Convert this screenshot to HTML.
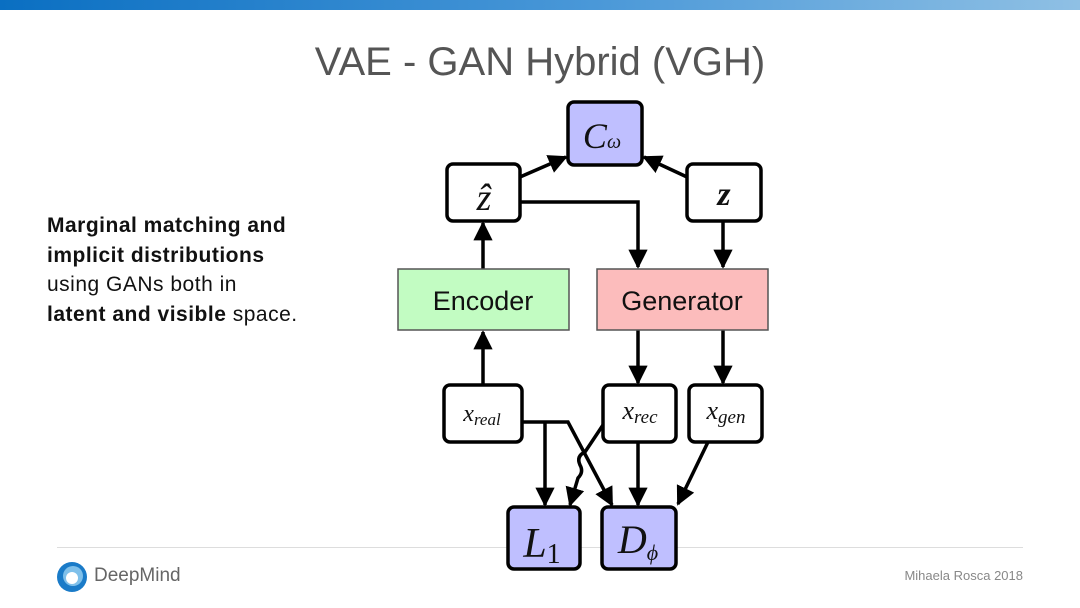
<!DOCTYPE html>
<html><head><meta charset="utf-8"><style>
body{margin:0;width:1080px;height:608px;background:#fff;position:relative;overflow:hidden;font-family:"Liberation Sans",sans-serif}
.bar{position:absolute;left:0;top:0;width:1080px;height:10px;background:linear-gradient(90deg,#0a6fc2,#4a98d8 55%,#8fc0e4)}
.title{position:absolute;left:0;width:1080px;top:40px;text-align:center;font-size:40px;color:#555}
.left{position:absolute;left:47px;top:211px;font-size:21px;line-height:29.5px;color:#111;letter-spacing:0.5px}
.foot{position:absolute;left:57px;top:547px;width:966px;height:1px;background:#ddd}
.dm{position:absolute;left:94px;top:565px;font-size:19px;color:#666}
.auth{position:absolute;right:57px;top:568px;font-size:13px;color:#888}
</style></head><body>
<div class="bar"></div>
<div class="title">VAE - GAN Hybrid (VGH)</div>
<div class="left"><b>Marginal matching and<br>implicit distributions</b><br>using GANs both in<br><b>latent and visible</b> space.</div>
<div class="foot"></div>
<svg style="position:absolute;left:56px;top:561px" width="32" height="32" viewBox="0 0 32 32"><circle cx="16" cy="16" r="15" fill="#1a7bc8"/><circle cx="17" cy="15" r="10" fill="#7fc0ea"/><circle cx="16" cy="17" r="6" fill="#fff"/></svg>
<div class="dm">DeepMind</div>
<div class="auth">Mihaela Rosca 2018</div>
<svg style="position:absolute;left:0;top:0" width="1080" height="608">
<defs><marker id="a" viewBox="0 0 10 10" refX="9" refY="5" markerWidth="5.5" markerHeight="5.5" orient="auto"><path d="M0,0L10,5L0,10z" fill="#000"/></marker></defs>
<g stroke="#000" stroke-width="3.5" fill="none" marker-end="url(#a)">
<line x1="520" y1="177" x2="566" y2="157"/>
<line x1="687" y1="177" x2="644" y2="157"/>
<polyline points="520,202 638,202 638,267"/>
<line x1="723" y1="221" x2="723" y2="267"/>
<line x1="483" y1="269" x2="483" y2="223"/>
<line x1="483" y1="385" x2="483" y2="332"/>
<line x1="638" y1="330" x2="638" y2="383"/>
<line x1="723" y1="330" x2="723" y2="383"/>
<line x1="545" y1="422" x2="545" y2="505"/>
<polyline points="522,422 568,422 612,505"/>
<path d="M603,425 L585,452 Q576,456 580,465 Q584,472 578,478 L570,505"/>
<line x1="638" y1="442" x2="638" y2="505"/>
<line x1="708" y1="442" x2="678" y2="504"/>
</g>
<g stroke="#000" stroke-width="3.5">
<rect x="568" y="102" width="74" height="63" rx="6" fill="#bfbfff"/>
<rect x="447" y="164" width="73" height="57" rx="6" fill="#fff"/>
<rect x="687" y="164" width="74" height="57" rx="6" fill="#fff"/>
<rect x="444" y="385" width="78" height="57" rx="6" fill="#fff"/>
<rect x="603" y="385" width="73" height="57" rx="6" fill="#fff"/>
<rect x="689" y="385" width="73" height="57" rx="6" fill="#fff"/>
<rect x="508" y="507" width="72" height="62" rx="6" fill="#bfbfff"/>
<rect x="602" y="507" width="74" height="62" rx="6" fill="#bfbfff"/>
</g>
<rect x="398" y="269" width="171" height="61" fill="#c2fcc2" stroke="#555" stroke-width="1.5"/>
<rect x="597" y="269" width="171" height="61" fill="#fcbcbc" stroke="#555" stroke-width="1.5"/>
<g font-family="Liberation Sans,sans-serif" font-size="27" text-anchor="middle" fill="#111">
<text x="483" y="310">Encoder</text><text x="682" y="310">Generator</text></g>
<g font-family="Liberation Serif,serif" font-style="italic" text-anchor="middle" fill="#111">
<text x="602" y="148" font-size="36">C<tspan font-size="20">ω</tspan></text>
<text x="484" y="210" font-size="38">ẑ</text>
<text x="724" y="205" font-size="34" font-weight="bold">z</text>
<text x="482" y="421" font-size="24">x<tspan font-size="17" dy="4">real</tspan></text>
<text x="640" y="419" font-size="26">x<tspan font-size="19" dy="4">rec</tspan></text>
<text x="726" y="419" font-size="26">x<tspan font-size="19" dy="4">gen</tspan></text>
<text x="542" y="557" font-size="42">L<tspan font-style="normal" font-size="28" dy="6">1</tspan></text>
<text x="638" y="553" font-size="40">D<tspan font-size="22" dy="7">ϕ</tspan></text>
</g>
</svg>
</body></html>
